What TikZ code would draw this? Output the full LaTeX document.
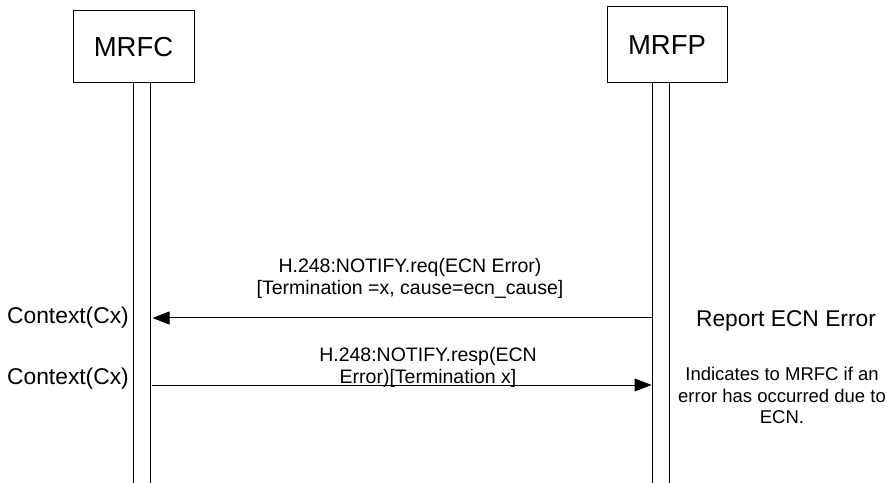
\documentclass[tikz,border=0pt]{standalone}
\usepackage{fontspec}
\setmainfont{Liberation Sans}
\usetikzlibrary{arrows.meta}
\begin{document}
\begin{tikzpicture}[x=1bp,y=-1bp,
  entity/.style={draw, line width=1bp, minimum width=121bp, inner sep=0pt,
    font=\fontsize{27.5bp}{30bp}\selectfont},
  life/.style={line width=1bp},
  msg/.style={line width=1bp, -{Triangle[length=17bp,width=13bp]}},
  lbl/.style={inner sep=0pt, align=center, text depth=0pt,
    font=\fontsize{19.5bp}{22bp}\selectfont},
  note/.style={inner sep=0pt, align=center, text depth=0pt,
    font=\fontsize{18.5bp}{21.5bp}\selectfont},
  ctx/.style={inner sep=0pt, anchor=base east,
    font=\fontsize{22.8bp}{24bp}\selectfont},
  title/.style={inner sep=0pt, anchor=base,
    font=\fontsize{22.8bp}{24bp}\selectfont}]
\useasboundingbox (0,0) rectangle (892,483);

% entities
\node[entity, minimum height=72bp] (mrfc) at (133.5,46.7) {MRFC};
\node[entity, minimum width=120bp, minimum height=76bp] (mrfp) at (667,44.7) {MRFP};

% lifelines
\coordinate (fcL) at (133,483.5);
\coordinate (fcR) at (150.5,483.5);
\coordinate (fpL) at (652,483.5);
\coordinate (fpR) at (669,483.5);
\draw[life] (mrfc.south -| fcL) -- (fcL);
\draw[life] (mrfc.south -| fcR) -- (fcR);
\draw[life] (mrfp.south -| fpL) -- (fpL);
\draw[life] (mrfp.south -| fpR) -- (fpR);

% messages
\coordinate (reqS) at (651.5,318);
\coordinate (reqE) at (152.5,318);
\coordinate (respS) at (152,385);
\coordinate (respE) at (651.5,385);
\draw[msg] (reqS) -- (reqE);
\draw[msg] (respS) -- (respE);

% labels
\node[lbl, anchor=south] (reqlbl) at (410,295)
  {H.248:NOTIFY.req(ECN Error)\\{[Termination =x, cause=ecn\_cause]}};
\node[lbl, anchor=south] (resplbl) at (428,383.5)
  {H.248:NOTIFY.resp(ECN\\Error)[Termination x]};
\node[ctx] (ctx1) at (129,324) {Context(Cx)};
\node[ctx] (ctx2) at (129,384) {Context(Cx)};
\node[title] (report) at (786,327) {Report ECN Error};
\node[note, anchor=south] (notetxt) at (782,424)
  {Indicates to MRFC if an\\error has occurred due to\\ECN.};
\end{tikzpicture}
\end{document}
